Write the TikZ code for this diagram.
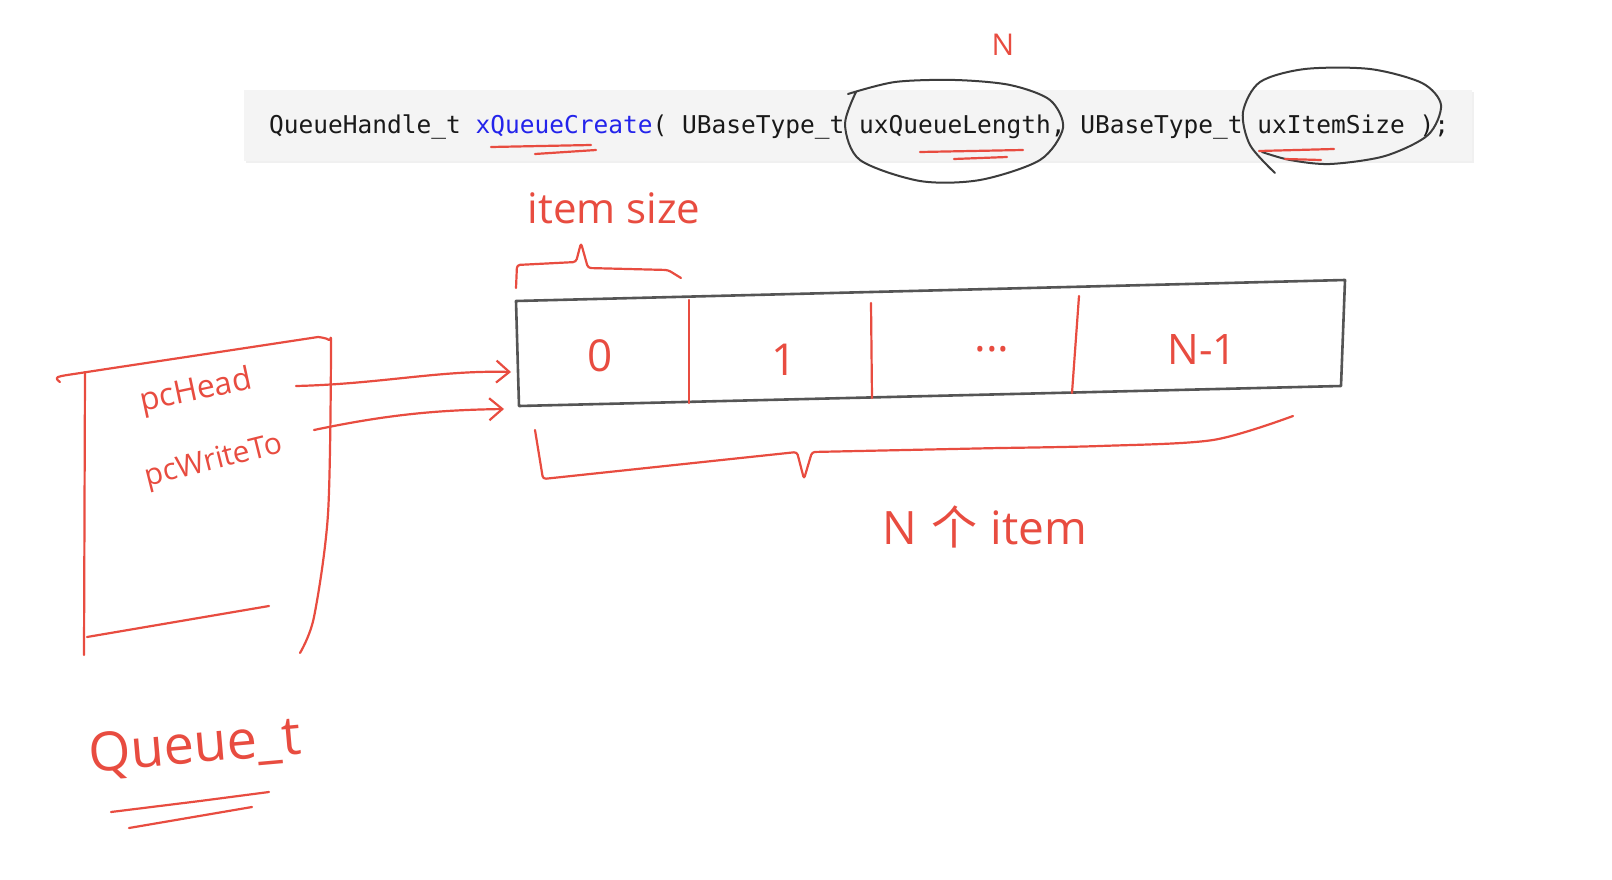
\documentclass[tikz,border=0pt]{standalone}
\usepackage{fontspec}
\setmainfont{Open Sans}
\newfontfamily\cjkfont{Noto Sans CJK SC}
\newfontfamily\codefont{DejaVu Sans Mono}
\usetikzlibrary{arrows.meta}
\definecolor{penred}{RGB}{232,76,64}
\definecolor{inkgray}{RGB}{60,60,60}
\definecolor{boxgray}{RGB}{85,85,85}
\definecolor{codebg}{RGB}{244,244,244}
\definecolor{codeblue}{RGB}{35,35,235}
\begin{document}
\begin{tikzpicture}[x=1pt,y=-1pt,
  pen/.style={draw=penred,line width=2.2pt,line cap=round,line join=round},
  ink/.style={draw=inkgray,line width=2pt,line cap=round,line join=round},
  boxline/.style={draw=boxgray,line width=2.6pt,line cap=round,line join=round},
  hand/.style={text=penred,inner sep=0pt,font=\fontsize{#1}{#1}\selectfont},
  hand/.default=32,
  barb/.style={-{Straight Barb[length=13pt,width=22pt,line width=2.2pt]}}]
\fill[white] (0,0) rectangle (1612,880);
\useasboundingbox (0,0) rectangle (1612,880);

% code bar
\fill[black!6] (246,92) rectangle (1474,163);
\fill[codebg] (244,90) rectangle (1472,161);
\node[anchor=base west,inner sep=0pt,text=black!90,
      font=\codefont\fontsize{24.5}{24.5}\selectfont] (code) at (269,134)
  {QueueHandle\_t \textcolor{codeblue}{xQueueCreate}( UBaseType\_t uxQueueLength, UBaseType\_t uxItemSize );};

% hand-drawn circles
\draw[ink] plot[smooth] coordinates {(856,92) (845,125) (860,160) (920,181) (980,180) (1040,160) (1063,128) (1050,100) (1010,85) (955,80) (895,82) (848,94)};
\draw[ink] plot[smooth] coordinates {(1275,173) (1250,145) (1243,112) (1260,82) (1305,69) (1370,69) (1422,83) (1441,105) (1428,135) (1385,156) (1330,164) (1290,160) (1262,152)};

% underlines in code
\draw[pen] (491,147) -- (591,145);
\draw[pen] (535,154) -- (596,150);
\draw[pen] (920,152) -- (1023,150);
\draw[pen] (954,159) -- (1007,157);
\draw[pen] (1259,151) -- (1334,149);
\draw[pen] (1285,159) -- (1321,160);

\node[hand=30] (nlabel) at (1003,45) {N};

% queue storage
\coordinate (tl) at (516,301);
\coordinate (tr) at (1345,280);
\coordinate (br) at (1341,386);
\coordinate (bl) at (519,406);
\draw[boxline] (tl) -- (tr) -- (br) -- (bl) -- cycle;
\draw[pen] (689,300) -- (689,403);
\draw[pen] (871,303) -- (872,398);
\draw[pen] (1079,296) -- (1072,393);

\node[hand=44] (c0) at (600,356) {0};
\node[hand=44] (c1) at (784,360) {1};
\node[hand=44] (c2) at (992,349) {...};
\node[hand=42] (c3) at (1202,350) {N-1};

% item size brace
\node[hand=42] (itemsize) at (614,208) {item size};
\draw[pen,rounded corners=3pt] (516,288) -- (517,265) -- (576,262) -- (581,243) -- (588,268) -- (668,270) -- (681,278);

% N items brace
\draw[pen,rounded corners=3pt] (535,430) -- (543,479) -- (797,452) -- (804,479) -- (812,452) -- (1000,448);
\draw[pen] plot[smooth] coordinates {(1000,448) (1100,446) (1213,440) (1293,416)};
\node[hand=46] (nitem) at (985,527) {N\hspace{0.3em}{\cjkfont 个}\hspace{0.3em}item};

% Queue_t struct
\draw[pen] plot[smooth] coordinates {(60,382) (58,377) (87,372) (206,354) (318,337)};
\draw[pen] plot[smooth] coordinates {(318,337) (329,340) (331,352) (328,514) (314,617) (300,653)};
\draw[pen] (85,372) -- (84,655);
\draw[pen] (87,637) -- (269,606);

\node[hand=32,rotate=12] (pchead) at (196,392) {pcHead};
\node[hand=30,rotate=14] (pcwrite) at (214,462) {pcWriteTo};
\coordinate (headout) at (296,386);
\coordinate (writeout) at (314,430);
\coordinate (headin) at (511,372);
\coordinate (writein) at (504,409);
\draw[pen,barb] (headout) .. controls (380,384) and (440,370) .. (headin);
\draw[pen,barb] (writeout) .. controls (390,414) and (440,410) .. (writein);

\node[hand=54,rotate=5] (queuet) at (195,748) {Queue\_t};
\draw[pen] (111,812) -- (200,801) -- (269,792);
\draw[pen] (129,828) -- (252,807);
\end{tikzpicture}
\end{document}
